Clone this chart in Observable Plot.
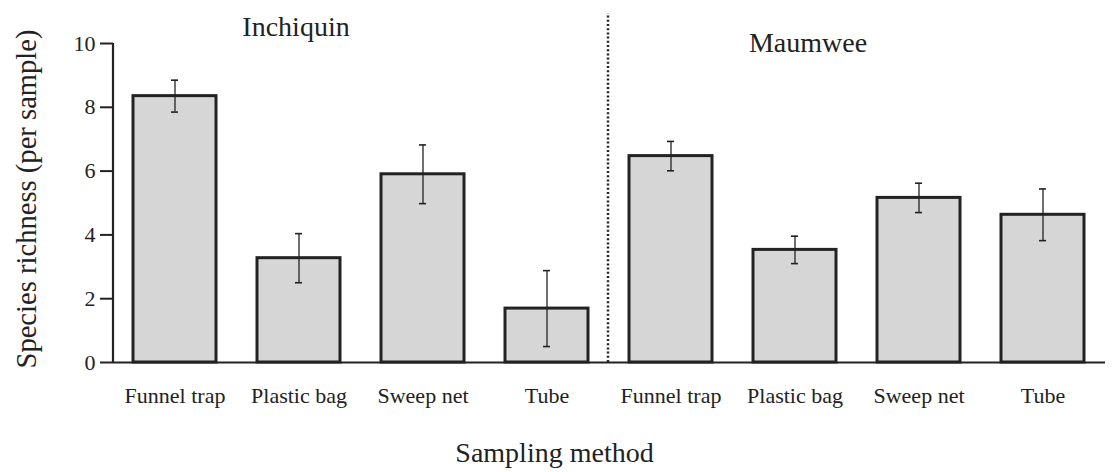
<!DOCTYPE html>
<html>
<head>
<meta charset="utf-8">
<script src="https://cdn.jsdelivr.net/npm/d3@7"></script>
<script src="https://cdn.jsdelivr.net/npm/@observablehq/plot@0.6"></script>
<style>
  html, body { margin: 0; padding: 0; background: #fff; }
  #chart svg { display: block; }
</style>
</head>
<body>
<div id="chart"></div>
<script>
// Mean species richness per sample, by lake and sampling method, with error bars
const sites = ["Inchiquin", "Maumwee"];
const methods = ["Funnel trap", "Plastic bag", "Sweep net", "Tube"];
const inchiquinMean = [8.35, 3.27, 5.90, 1.69];
const inchiquinErr  = [0.50, 0.77, 0.92, 1.19];
const maumweeMean   = [6.47, 3.53, 5.16, 4.63];
const maumweeErr    = [0.46, 0.43, 0.46, 0.81];
const yTicks = [0, 2, 4, 6, 8, 10];
const yTitle = "Species richness (per sample)";
const xTitle = "Sampling method";

const key = (site, method) => `${site}|${method}`;
const rows = [];
[[inchiquinMean, inchiquinErr], [maumweeMean, maumweeErr]].forEach(([means, errs], s) => {
  methods.forEach((m, i) => {
    rows.push({site: sites[s], method: m, key: key(sites[s], m), mean: means[i], err: errs[i]});
  });
});

const font = "'Liberation Serif', 'Times New Roman', serif";
const ink = "#222";

const chart = Plot.plot({
  width: 1112,
  height: 472,
  marginLeft: 113,
  marginRight: 7,
  marginTop: 43,
  marginBottom: 110,
  style: {fontFamily: font, color: ink, background: "#fff"},
  x: {domain: rows.map(d => d.key), paddingInner: 0.33, paddingOuter: 0.165, align: 0.5, axis: null},
  y: {domain: [0, 10], axis: null},
  marks: [
    // bars
    Plot.barY(rows, {x: "key", y: "mean", fill: "#d6d6d6", stroke: ink, strokeWidth: 3}),
    // error bars
    Plot.ruleX(rows, {x: "key", y1: d => d.mean - d.err, y2: d => d.mean + d.err, stroke: ink, strokeWidth: 1.3}),
    Plot.tickY(rows, {x: "key", y: d => d.mean + d.err, stroke: ink, strokeWidth: 1.6, insetLeft: 38, insetRight: 38}),
    Plot.tickY(rows, {x: "key", y: d => d.mean - d.err, stroke: ink, strokeWidth: 1.6, insetLeft: 38, insetRight: 38}),
    // baseline and y axis line (placed at the left edge of the first band's step)
    Plot.ruleY([0], {stroke: ink, strokeWidth: 2.2}),
    Plot.ruleX([rows[0].key], {dx: -62, stroke: ink, strokeWidth: 2.2}),
    Plot.axisY({ticks: yTicks, tickSize: 13, tickPadding: 5, fontSize: 22, stroke: ink, strokeWidth: 2, label: null}),
    // x tick labels (method names, repeated per lake)
    Plot.axisX({tickSize: 0, tickPadding: 25, fontSize: 22, tickFormat: k => k.split("|")[1], label: null}),
    // dotted divider between the two lakes
    Plot.ruleX([key(sites[1], methods[0])], {y1: 0, y2: 10.93, dx: -63, stroke: ink, strokeWidth: 2.5, strokeDasharray: "2,2.2", clip: false}),
    // lake titles
    Plot.text([key(sites[0], methods[1])], {x: d => d, frameAnchor: "top", lineAnchor: "middle", text: () => sites[0], fontSize: 28, dx: -3, dy: -16, fill: ink}),
    Plot.text([key(sites[1], methods[1])], {x: d => d, frameAnchor: "top", lineAnchor: "middle", text: () => sites[1], fontSize: 28, dx: 13, dy: 0, fill: ink}),
    // axis titles
    Plot.text([yTitle], {frameAnchor: "left", textAnchor: "middle", lineAnchor: "middle", text: d => d, rotate: -90, fontSize: 28.6, dx: -87, dy: -4, fill: ink}),
    Plot.text([xTitle], {frameAnchor: "bottom", textAnchor: "middle", lineAnchor: "middle", text: d => d, fontSize: 28, dx: -55, dy: 91, fill: ink})
  ]
});

document.getElementById("chart").appendChild(chart);
</script>
</body>
</html>
